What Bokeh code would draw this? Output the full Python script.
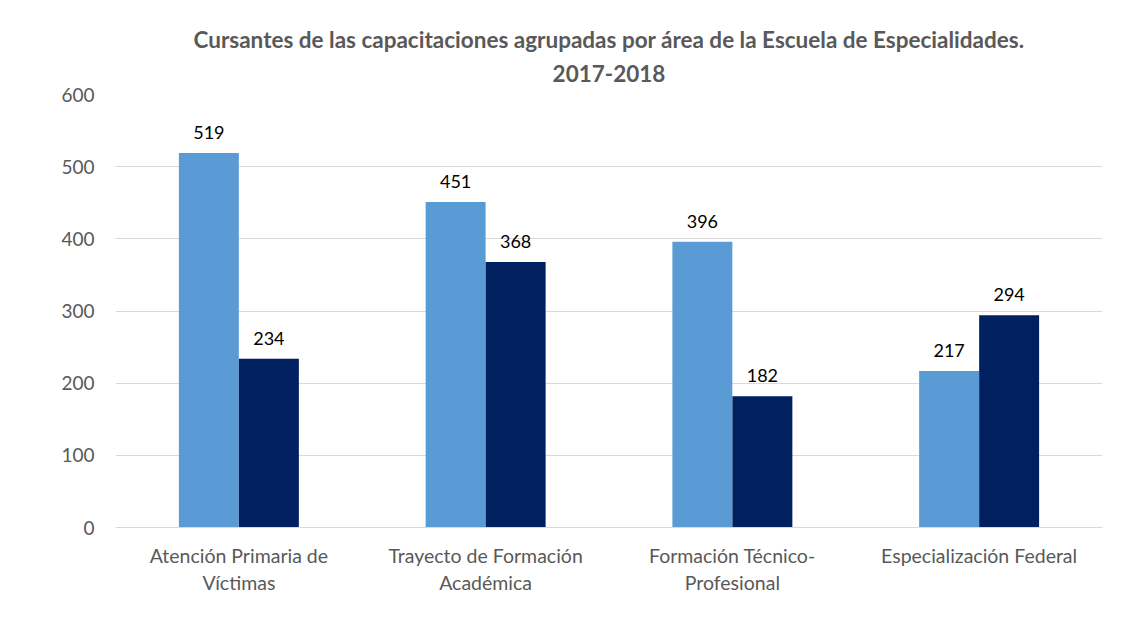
from bokeh.plotting import figure
from bokeh.models import ColumnDataSource, Title, LabelSet, FixedTicker, Range1d
from bokeh.core.properties import value
from bokeh.transform import dodge
from bokeh.embed import file_html
from bokeh.resources import INLINE

categories = ["Atención Primaria de Víctimas", "Trayecto de Formación Académica",
              "Formación Técnico-Profesional", "Especialización Federal"]
tick_labels = ["Atención Primaria de\nVíctimas", "Trayecto de Formación\nAcadémica",
               "Formación Técnico-\nProfesional", "Especialización Federal"]
values_2017 = [519, 451, 396, 217]
values_2018 = [234, 368, 182, 294]
y_ticks = [0, 100, 200, 300, 400, 500, 600]
title_lines = ["Cursantes de las capacitaciones agrupadas por área de la Escuela de Especialidades.",
               "2017-2018"]

FONT = "Lato"
xpos = [i + 0.5 for i in range(len(categories))]
source = ColumnDataSource(data=dict(x=xpos, v17=values_2017, v18=values_2018,
                                    l17=[str(v) for v in values_2017],
                                    l18=[str(v) for v in values_2018]))

p = figure(x_range=Range1d(0, len(categories)), y_range=Range1d(0, 600),
           width=1118, height=606, output_backend="svg", toolbar_location=None,
           min_border_left=115, min_border_right=16, min_border_top=94, min_border_bottom=79)

p.add_layout(Title(text=title_lines[1], align="center", text_font=FONT, text_font_size="22.5px",
                   text_color="#595959", text_font_style="bold", standoff=26), "above")
p.add_layout(Title(text=title_lines[0], align="center", text_font=FONT, text_font_size="22.5px",
                   text_color="#595959", text_font_style="bold", standoff=-6), "above")

bw = 0.243
off = 0.1216
p.vbar(x=dodge("x", -off), top="v17", width=bw, source=source,
       fill_color="#5B9BD5", line_color=None)
p.vbar(x=dodge("x", off), top="v18", width=bw, source=source,
       fill_color="#002060", line_color=None)

p.add_layout(LabelSet(x=dodge("x", -off), y="v17", text="l17", source=source,
                      text_align="center", y_offset=14, text_font_size="18px",
                      text_color="#000000", text_font=value(FONT)))
p.add_layout(LabelSet(x=dodge("x", off), y="v18", text="l18", source=source,
                      text_align="center", y_offset=14, text_font_size="18px",
                      text_color="#000000", text_font=value(FONT)))

p.yaxis.ticker = FixedTicker(ticks=y_ticks)
p.yaxis.axis_line_color = None
p.yaxis.major_tick_line_color = None
p.yaxis.minor_tick_line_color = None
p.yaxis.major_label_text_font = FONT
p.yaxis.major_label_text_font_size = "19px"
p.yaxis.major_label_text_color = "#595959"
p.yaxis.major_label_standoff = 15

p.xaxis.ticker = FixedTicker(ticks=xpos)
p.xaxis.axis_line_color = "#D9D9D9"
p.xaxis.major_tick_line_color = None
p.xaxis.minor_tick_line_color = None
p.xaxis.major_label_text_font = FONT
p.xaxis.major_label_text_font_size = "19.5px"
p.xaxis.major_label_text_color = "#595959"
p.xaxis.major_label_standoff = 10
p.xaxis.major_label_overrides = {x: t for x, t in zip(xpos, tick_labels)}

p.xgrid.grid_line_color = None
p.ygrid.grid_line_color = "#D9D9D9"
p.outline_line_color = None
p.border_fill_color = "white"

open("out.html", "w").write(file_html(p, INLINE))
